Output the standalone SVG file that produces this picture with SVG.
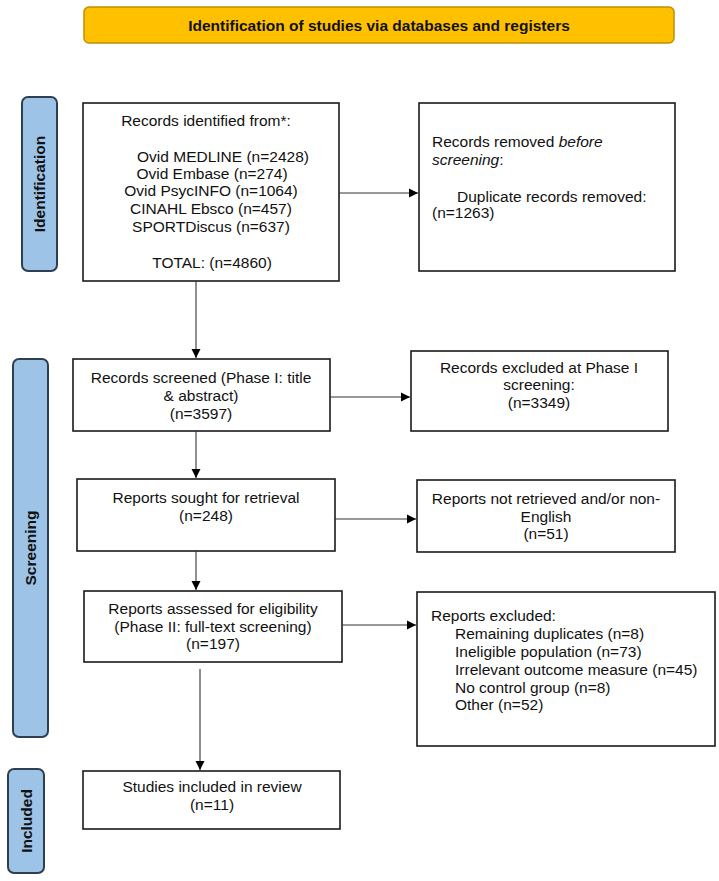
<svg xmlns="http://www.w3.org/2000/svg" width="719" height="881" viewBox="0 0 719 881">
<style>
  .box { fill: #ffffff; stroke: #1a1a1a; stroke-width: 1.6; }
  .lane { fill: #9dc3e6; stroke: #2f3f52; stroke-width: 2; }
  .t { font-family: "Liberation Sans", Arial, sans-serif; font-size: 15.5px; fill: #111; }
  .c { text-anchor: middle; }
  .lt { font-family: "Liberation Sans", Arial, sans-serif; font-size: 15.5px; font-weight: bold; fill: #111; text-anchor: middle; }
  .conn { stroke: #333; stroke-width: 1.1; fill: none; marker-end: url(#ah); }
</style>
<defs>
  <marker id="ah" markerWidth="10" markerHeight="10" refX="9" refY="5" orient="auto" markerUnits="userSpaceOnUse">
    <path d="M0,0.5 L9,5 L0,9.5 Z" fill="#000"/>
  </marker>
</defs>
<rect width="719" height="881" fill="#ffffff"/>

<g id="title">
  <rect x="84" y="7" width="590" height="36" rx="5" fill="#ffc000" stroke="#bf9000" stroke-width="1.5"/>
  <text x="379" y="30.5" class="lt">Identification of studies via databases and registers</text>
</g>

<g id="lane-identification">
  <rect class="lane" x="22" y="97" width="35" height="174" rx="6"/>
  <text class="lt" transform="translate(45,184) rotate(-90)">Identification</text>
</g>
<g id="lane-screening">
  <rect class="lane" x="13" y="359" width="35" height="378" rx="6"/>
  <text class="lt" transform="translate(36,548) rotate(-90)">Screening</text>
</g>
<g id="lane-included">
  <rect class="lane" x="8" y="769" width="36" height="104" rx="6"/>
  <text class="lt" transform="translate(31.5,821) rotate(-90)">Included</text>
</g>

<g id="records-identified">
  <rect class="box" x="83" y="103" width="256" height="178"/>
  <text class="t c" x="206" y="126">Records identified from*:</text>
  <text class="t c" x="223" y="162">Ovid MEDLINE (n=2428)</text>
  <text class="t c" x="212" y="179">Ovid Embase (n=274)</text>
  <text class="t c" x="211" y="196">Ovid PsycINFO (n=1064)</text>
  <text class="t c" x="211" y="214">CINAHL Ebsco (n=457)</text>
  <text class="t c" x="211" y="232">SPORTDiscus (n=637)</text>
  <text class="t c" x="212" y="268">TOTAL: (n=4860)</text>
</g>

<g id="records-removed">
  <rect class="box" x="419" y="103" width="256" height="168"/>
  <text class="t" x="432" y="147">Records removed <tspan font-style="italic">before</tspan></text>
  <text class="t" x="432" y="165"><tspan font-style="italic">screening</tspan>:</text>
  <text class="t" x="457" y="202">Duplicate records removed:</text>
  <text class="t" x="432" y="218">(n=1263)</text>
</g>

<g id="records-screened">
  <rect class="box" x="73" y="359" width="257" height="72"/>
  <text class="t c" x="201" y="383">Records screened (Phase I: title</text>
  <text class="t c" x="201" y="401">&amp; abstract)</text>
  <text class="t c" x="201" y="419">(n=3597)</text>
</g>

<g id="records-excluded">
  <rect class="box" x="411" y="351" width="257" height="80"/>
  <text class="t c" x="539" y="373">Records excluded at Phase I</text>
  <text class="t c" x="539" y="390">screening:</text>
  <text class="t c" x="539" y="408">(n=3349)</text>
</g>

<g id="reports-sought">
  <rect class="box" x="77" y="479" width="258" height="72"/>
  <text class="t c" x="206" y="503">Reports sought for retrieval</text>
  <text class="t c" x="206" y="521">(n=248)</text>
</g>

<g id="reports-not-retrieved">
  <rect class="box" x="417" y="480" width="258" height="72"/>
  <text class="t c" x="546" y="504">Reports not retrieved and/or non-</text>
  <text class="t c" x="546" y="522">English</text>
  <text class="t c" x="546" y="539">(n=51)</text>
</g>

<g id="reports-assessed">
  <rect class="box" x="84" y="591" width="258" height="71"/>
  <text class="t c" x="213" y="614">Reports assessed for eligibility</text>
  <text class="t c" x="213" y="632">(Phase II: full-text screening)</text>
  <text class="t c" x="213" y="649">(n=197)</text>
</g>

<g id="reports-excluded">
  <rect class="box" x="417" y="592" width="298" height="154"/>
  <text class="t" x="431" y="621">Reports excluded:</text>
  <text class="t" x="455" y="639">Remaining duplicates (n=8)</text>
  <text class="t" x="455" y="657">Ineligible population (n=73)</text>
  <text class="t" x="455" y="675">Irrelevant outcome measure (n=45)</text>
  <text class="t" x="455" y="693">No control group (n=8)</text>
  <text class="t" x="455" y="710">Other (n=52)</text>
</g>

<g id="studies-included">
  <rect class="box" x="83" y="771" width="257" height="58"/>
  <text class="t c" x="212" y="792">Studies included in review</text>
  <text class="t c" x="212" y="810">(n=11)</text>
</g>

<g id="connectors">
  <line class="conn" x1="339" y1="193" x2="418" y2="193"/>
  <line class="conn" x1="196" y1="281" x2="196" y2="358"/>
  <line class="conn" x1="330" y1="397" x2="410" y2="397"/>
  <line class="conn" x1="196" y1="431" x2="196" y2="478"/>
  <line class="conn" x1="335" y1="519" x2="416" y2="519"/>
  <line class="conn" x1="196" y1="551" x2="196" y2="590"/>
  <line class="conn" x1="342" y1="625" x2="416" y2="625"/>
  <line class="conn" x1="200" y1="669" x2="200" y2="770"/>
</g>
</svg>
